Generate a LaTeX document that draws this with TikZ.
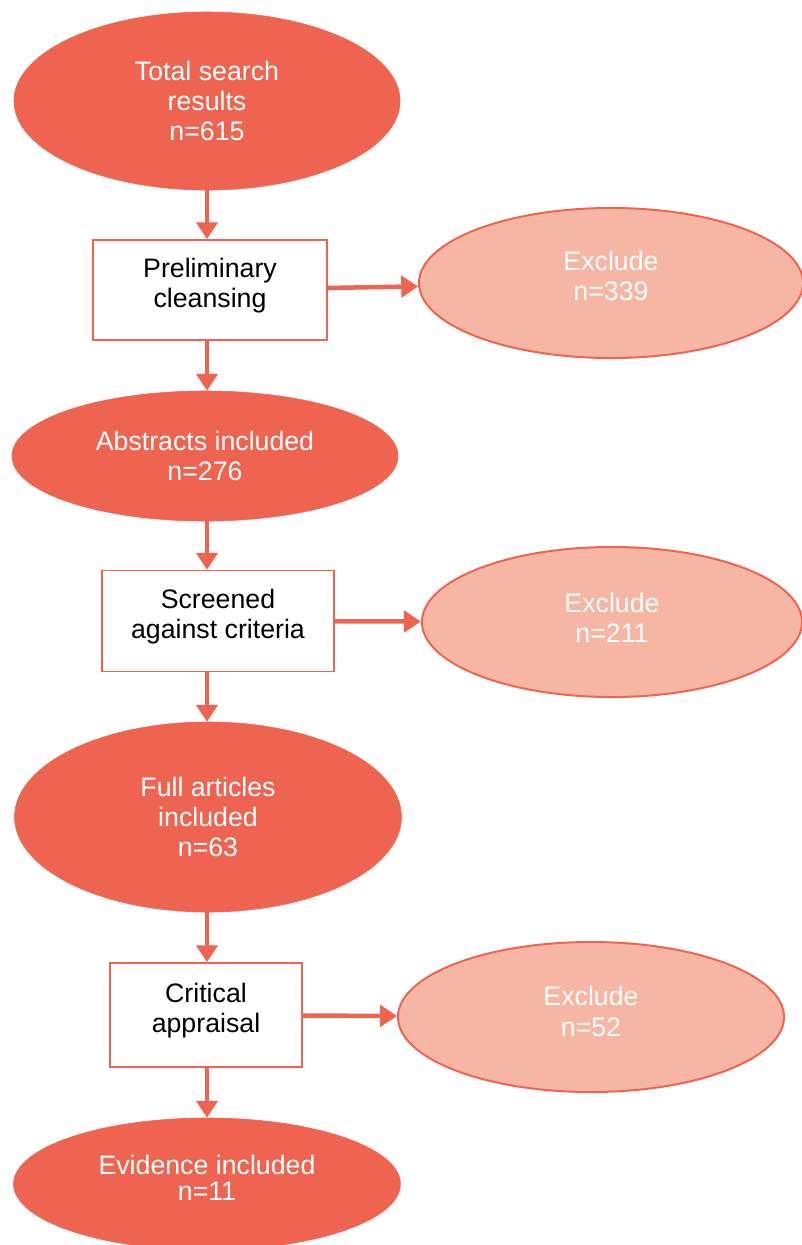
\documentclass[tikz,border=0pt]{standalone}
\usepackage{fontspec}
\setmainfont{Liberation Sans}
\usetikzlibrary{arrows.meta,positioning,shapes.geometric}
\definecolor{coral}{HTML}{EE6450}
\definecolor{salmon}{HTML}{F7B6A3}
\tikzset{
	stage/.style={ellipse,fill=coral,draw=coral,text=white,align=center,inner sep=0pt},
	excl/.style={ellipse,fill=salmon,draw=coral,line width=1.4pt,text=white,align=center,inner sep=0pt,minimum width=9.6cm,minimum height=3.75cm},
	box/.style={draw=coral,line width=1.2pt,rectangle,align=center,fill=white,text depth=10pt},
	arr/.style={draw=coral,line width=3.2pt,-{Triangle[width=15pt,length=12pt]}}
}

\begin{document}
\begin{tikzpicture}[x=0.025cm,y=-0.025cm,font=\fontsize{19}{21.5}\selectfont]
			\useasboundingbox (0,0) rectangle (802,1245);
			\clip (0,0) rectangle (802,1245);
			\node[stage,minimum width=9.65cm,minimum height=4.45cm] (tot) at (207,101) {Total search\\results\\n=615};
			\node[box,minimum width=5.85cm,minimum height=2.5cm] (pre) at (210,290) {Preliminary\\cleansing};
			\node[excl,text depth=10pt] (ex1) at (611,283) {Exclude\\n=339};
			\node[stage,minimum width=9.65cm,minimum height=3.25cm] (abs) at (205,456) {Abstracts included\\n=276};
			\node[box,minimum width=5.8cm,minimum height=2.52cm] (scr) at (218,621) {Screened\\against criteria};
			\node[excl,minimum width=9.5cm,text depth=6pt] (ex2) at (612,622) {Exclude\\n=211};
			\node[stage,minimum width=9.67cm,minimum height=4.75cm] (full) at (208,817) {Full articles\\included\\n=63};
			\node[box,minimum width=4.8cm,minimum height=2.6cm] (cri) at (206,1015) {Critical\\appraisal};
			\node[excl,minimum width=9.65cm,text depth=8pt] (ex3) at (591,1017) {Exclude\\n=52};
			\node[stage,minimum width=9.67cm,minimum height=3.3cm,text depth=9pt] (evi) at (207,1184) {Evidence included\\[-3pt]n=11};

			\draw[arr] (tot) -- (tot |- pre.north);
			\draw[arr] (pre) -- (ex1);
			\draw[arr] (pre.south -| tot) -- (tot |- abs.north);
			\draw[arr] (tot |- abs.south) -- (tot |- scr.north);
			\draw[arr] (scr) -- (ex2);
			\draw[arr] (tot |- scr.south) -- (tot |- full.north);
			\draw[arr] (tot |- full.south) -- (tot |- cri.north);
			\draw[arr] (cri) -- (ex3);
			\draw[arr] (tot |- cri.south) -- (tot |- evi.north);
		\end{tikzpicture}
\end{document}
